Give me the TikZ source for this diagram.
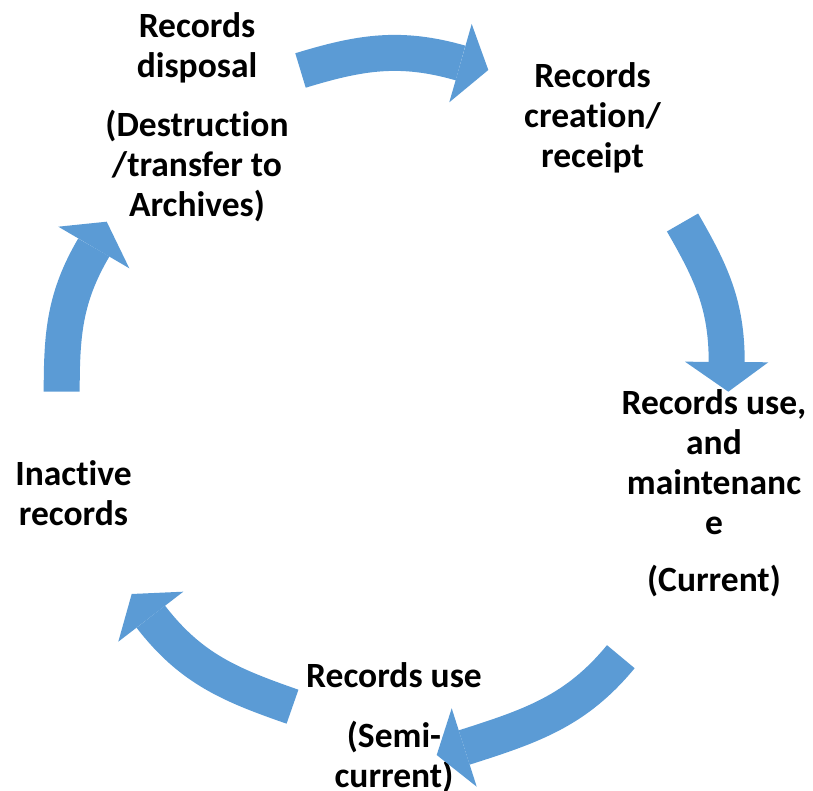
\documentclass[tikz,border=0pt]{standalone}
\usepackage{fontspec}
\setmainfont[Ligatures={NoCommon,NoRare,NoContextual}]{Carlito}
\definecolor{cyclearrow}{HTML}{5B9BD5}
\tikzset{
  label/.style={font=\bfseries\fontsize{35.5}{40}\selectfont, align=center, inner sep=0pt, text=black},
  band/.style={draw=cyclearrow, line width=36pt, line cap=butt},
  head/.style={fill=cyclearrow, draw=none},
}
\begin{document}
\begin{tikzpicture}[x=1pt,y=1pt]
\useasboundingbox (0,0) rectangle (813,791);

% stage labels
\node[label] (disposal) at (197,674) {Records\\disposal\\[19pt](Destruction\\/transfer to\\Archives)};
\node[label] (creation) at (592.5,673.5) {Records\\creation/\\receipt};
\node[label] (current) at (714,297.5) {Records use,\\and\\maintenanc\\e\\[17pt](Current)};
\node[label] (inactive) at (73.5,298) {Inactive\\records};
\node[label] (semi) at (394,63.5) {Records use\\[20pt](Semi-\\current)};

% arrow: disposal -> creation
\coordinate (a1s) at (300.5,720.5);
\coordinate (a1b) at (460.5,728);
\coordinate (a1t) at (488.3,721);
\coordinate (a1w) at (471.7,767);
\coordinate (a1v) at (449.3,688.7);
\draw[band] (a1s) to[out=17,in=164] (a1b);
\fill[head] (a1w) -- (a1t) -- (a1v) -- cycle;

% arrow: creation -> current
\coordinate (a2s) at (682.5,568.5);
\coordinate (a2b) at (726.7,429);
\coordinate (a2t) at (728.3,399.3);
\coordinate (a2w) at (685,429.3);
\coordinate (a2v) at (768.3,428.7);
\draw[band] (a2s) to[out=-60,in=90] (a2b);
\fill[head] (a2w) -- (a2t) -- (a2v) -- cycle;

% arrow: current -> semi-current
\coordinate (a3s) at (620.8,134.3);
\coordinate (a3b) at (464.2,43.5);
\coordinate (a3t) at (436.7,36);
\coordinate (a3w) at (451.7,82.7);
\coordinate (a3v) at (476.7,4.3);
\draw[band] (a3s) to[out=-129.5,in=17.7] (a3b);
\fill[head] (a3w) -- (a3t) -- (a3v) -- cycle;

% arrow: semi-current -> inactive
\coordinate (a4s) at (292.5,84.3);
\coordinate (a4b) at (150.8,174.3);
\coordinate (a4t) at (131.7,197);
\coordinate (a4w) at (183.3,199.3);
\coordinate (a4v) at (118.3,149.3);
\draw[band] (a4s) to[out=160.8,in=-52.4] (a4b);
\fill[head] (a4w) -- (a4t) -- (a4v) -- cycle;

% arrow: inactive -> disposal
\coordinate (a5s) at (61.7,399.3);
\coordinate (a5b) at (93.8,543.5);
\coordinate (a5t) at (106.7,569.3);
\coordinate (a5w) at (58.3,564.3);
\coordinate (a5v) at (129.3,522.7);
\draw[band] (a5s) to[out=90,in=239.6] (a5b);
\fill[head] (a5w) -- (a5t) -- (a5v) -- cycle;
\end{tikzpicture}
\end{document}
